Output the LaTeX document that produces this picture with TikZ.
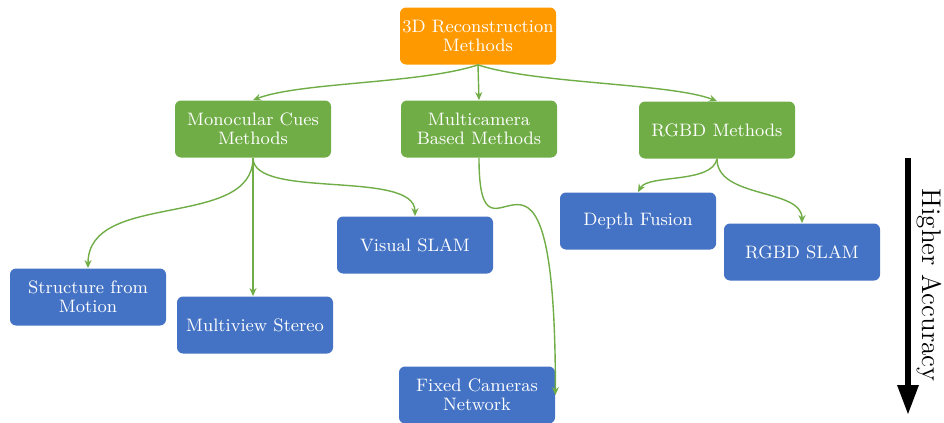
\documentclass[tikz,border=0pt]{standalone}
\usetikzlibrary{arrows.meta}
\definecolor{boxorange}{HTML}{FF9900}
\definecolor{boxgreen}{HTML}{70AD47}
\definecolor{boxblue}{HTML}{4472C4}
\begin{document}
\begin{tikzpicture}[
	x=0.5pt, y=-0.5pt,
	method/.style={ rounded corners=3pt, draw=none, text=white, align=center, inner sep=0pt,
		minimum width=78pt, minimum height=28.5pt, font=\fontsize{9}{9.5}\selectfont },
	rootbox/.style={ method, fill=boxorange },
	groupbox/.style={ method, fill=boxgreen },
	leafbox/.style={ method, fill=boxblue },
	link/.style={ boxgreen, line width=0.7pt, -{Stealth[length=4pt,width=3.5pt]} },
	accarrow/.style={ black, line width=3pt, -{Triangle[length=15pt,width=10pt]} }
]
\useasboundingbox (0,0) rectangle (944,423);

\node[rootbox] at (478,36) (root) {3D Reconstruction\\Methods};

\node[groupbox] at (253,129) (mono) {Monocular Cues\\Methods};
\node[groupbox] at (479,129) (multi) {Multicamera\\Based Methods};
\node[groupbox] at (717,130) (rgbd) {RGBD Methods};
\draw[link] (root.south) .. controls +(-58,19) and +(47,-18) .. (mono.north);
\draw[link] (root.south) -- (multi.north);
\draw[link] (root.south) .. controls +(58,19) and +(-47,-18) .. (rgbd.north);

\node[leafbox] at (88,297) (sfm) {Structure from\\Motion};
\node[leafbox] at (255,325) (mvs) {Multiview Stereo};
\node[leafbox] at (415,245) (vslam) {Visual SLAM};
\draw[link] (mono.south) .. controls +(0,72) and +(0,-78) .. (sfm.north);
\draw[link] (mono.south) -- (mono.south |- mvs.north);
\draw[link] (mono.south) .. controls +(0,42) and +(0,-47) .. (vslam.north);

\node[leafbox] at (477,395) (fixed) {Fixed Cameras\\Network};
\draw[link] (multi.south) .. controls +(0,140) and +(0,-330) .. (fixed.east);

\node[leafbox] at (638,221) (fusion) {Depth Fusion};
\node[leafbox] at (802,252) (rslam) {RGBD SLAM};
\draw[link] (rgbd.south) .. controls +(-5,25) and +(10,-18) .. (fusion.north);
\draw[link] (rgbd.south) .. controls +(0,40) and +(0,-35) .. (rslam.north);

% accuracy scale
\coordinate (acctop) at (908,158);
\coordinate (accbot) at (908,415);
\draw[accarrow] (acctop) -- (accbot);
\node[rotate=-90, anchor=north, inner sep=0pt, font=\fontsize{13.5}{15}\selectfont] at (942,285) (acclabel) {Higher Accuracy};

\end{tikzpicture}
\end{document}
